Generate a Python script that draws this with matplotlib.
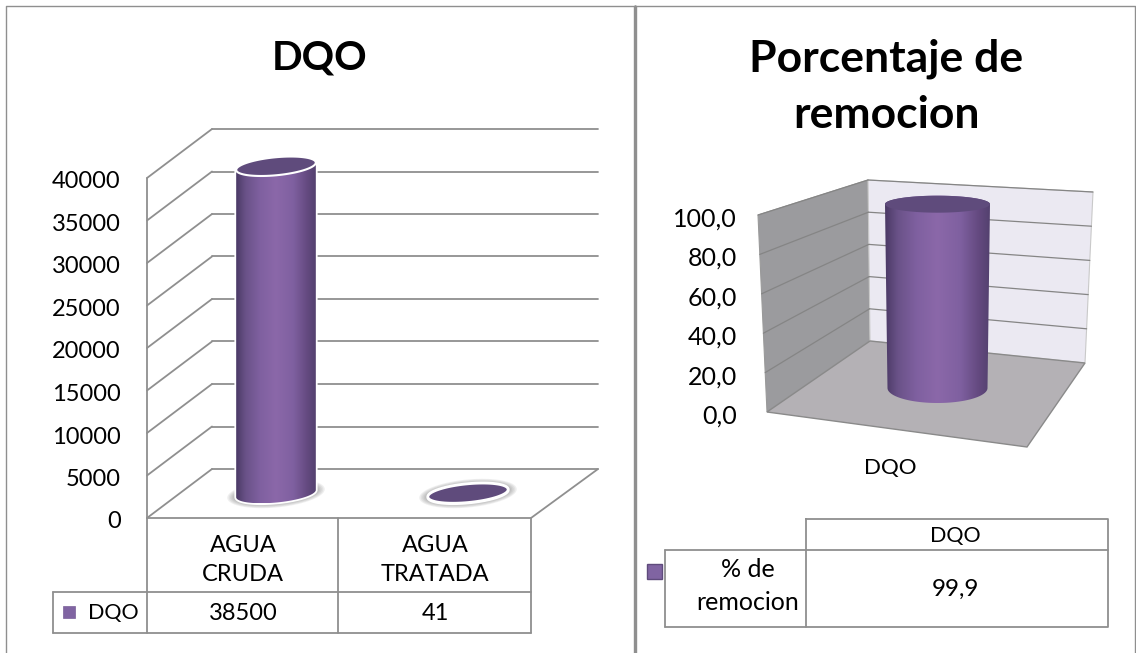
import matplotlib
matplotlib.use("Agg")
import matplotlib.pyplot as plt
import numpy as np
from matplotlib.colors import LinearSegmentedColormap
from matplotlib.patches import Polygon, Rectangle
from matplotlib.transforms import ScaledTranslation

# datos
categorias = ["AGUA\nCRUDA", "AGUA\nTRATADA"]
dqo = [38500, 41]
dqo_ticks = [0, 5000, 10000, 15000, 20000, 25000, 30000, 35000, 40000]
titulo_dqo = "DQO"
serie_dqo = "DQO"

porcentaje = [99.9]
pct_ticks = [0, 20, 40, 60, 80, 100]
cat_pct = ["DQO"]
titulo_pct = "Porcentaje de\nremocion"
serie_pct = "% de\nremocion"

W, H = 1136, 653
GRIS = "#8f8f8f"
FONT = "Lato"
plt.rcParams["font.family"] = [FONT, "DejaVu Sans"]

fig = plt.figure(figsize=(W / 100, H / 100), dpi=100, facecolor="white")
bg = fig.add_axes([0, 0, 1, 1])
bg.axis("off")
bg.set_xlim(0, W)
bg.set_ylim(H, 0)
bg.set_autoscale_on(False)


def eje(x0, y0, x1, y1):
    # axes colocado en pixeles de la imagen
    a = fig.add_axes([x0 / W, 1 - y0 / H, (x1 - x0) / W, (y0 - y1) / H])
    a.patch.set_alpha(0)
    for s in a.spines.values():
        s.set_visible(False)
    a.set_xticks([])
    a.tick_params(length=0)
    return a


def bajar_labels(a, px):
    off = ScaledTranslation(0, -px / 100, fig.dpi_scale_trans)
    for t in a.get_yticklabels():
        t.set_transform(t.get_transform() + off)


def a_px(a, x, y):
    p = a.transData.transform((x, y))
    return bg.transData.inverted().transform(p)


def linea(xs, ys, lw=1.3, c=GRIS, z=2):
    bg.plot(xs, ys, color=c, lw=lw, zorder=z, solid_capstyle="round")


def elipse(cx, cy, a, b, tilt=0.0, t0=0, t1=2 * np.pi):
    t = np.linspace(t0, t1, 80)
    f = np.radians(tilt)
    x = cx + a * np.cos(t) * np.cos(f) + b * np.sin(t) * np.sin(f)
    y = cy - a * np.cos(t) * np.sin(f) + b * np.sin(t) * np.cos(f)
    return np.column_stack([x, y])


grad = LinearSegmentedColormap.from_list(
    "cil",
    [(0, "#4b3a66"), (0.12, "#6a5288"), (0.3, "#7f60a0"), (0.5, "#8b68a9"),
     (0.72, "#7f60a0"), (0.9, "#63497f"), (1, "#54416f")],
)


def cilindro(cbase, ctop, a0, a1, b0, b1, tilt, borde=None, tapa="#5f4b7c"):
    abajo = elipse(cbase[0], cbase[1], a0, b0, tilt, 0, np.pi)
    arriba = elipse(ctop[0], ctop[1], a1, b1, tilt, np.pi, 2 * np.pi)
    cuerpo = np.vstack([abajo, arriba])
    if borde:
        bg.add_patch(Polygon(cuerpo, closed=True, fc="none", ec=borde, lw=2.6, zorder=4))
    xmin, xmax = cuerpo[:, 0].min(), cuerpo[:, 0].max()
    ymin, ymax = cuerpo[:, 1].min(), cuerpo[:, 1].max()
    if ymax - ymin > b0 * 2 + 3:
        im = bg.imshow(np.linspace(0, 1, 200).reshape(1, -1), cmap=grad, aspect="auto",
                       extent=(xmin, xmax, ymax, ymin), zorder=5, interpolation="bilinear")
        im.set_clip_path(Polygon(cuerpo, closed=True, transform=bg.transData))
    bg.add_patch(Polygon(elipse(ctop[0], ctop[1], a1, b1, tilt), closed=True, fc=tapa,
                         ec=borde if borde else "none", lw=1.5, zorder=6))


def sombra(cx, cy, a, b, tilt):
    for k in range(7):
        bg.add_patch(Polygon(elipse(cx, cy, a + 9 - k * 1.5, b + 5 - k * 0.8, tilt), closed=True,
                             fc="#555555", ec="none", alpha=0.09, zorder=3))


# ---- marcos ----
linea([6, 6, 634, 634], [653, 6, 6, 653], lw=1.0)
linea([636, 636, 1135, 1135], [653, 6, 6, 653], lw=1.0)
linea([635, 635], [6, 653], lw=2.0)

# ---- grafico DQO ----
ax1 = eje(147, 518, 531, 178)
ax1.set_xlim(-0.5, 1.5)
ax1.set_ylim(0, 40000)
ax1.set_yticks(dqo_ticks)
ax1.set_yticklabels([str(v) for v in dqo_ticks], fontsize=17, color="black")
ax1.tick_params(axis="y", pad=19)
bajar_labels(ax1, 2)
ax1m = eje(180, 493.5, 564, 153.5)
ax1m.set_xlim(-0.5, 1.5)
ax1m.set_ylim(0, 40000)
ax1m.axis("off")

DX, DY = 65, -49
for v in dqo_ticks:
    x, y = a_px(ax1, -0.5, v)
    linea([x, x + DX], [y, y + DY])
    linea([x + DX, 598], [y + DY, y + DY])
x0, y0 = a_px(ax1, -0.5, 0)
x1, _ = a_px(ax1, 1.5, 0)
x_, ytop = a_px(ax1, -0.5, dqo_ticks[-1])
linea([x0, x_], [y0, ytop])
linea([x0, x1, 598], [y0, y0, y0 + DY])

for i, v in enumerate(dqo):
    bx, by = a_px(ax1m, i, 0)
    tx, ty = a_px(ax1m, i, v)
    sombra(bx, by, 40, 9, 5.5)
    cilindro((bx, by), (tx, ty), 40, 40, 9, 9, 5.5, borde="white")

# tabla izquierda
linea([147, 147], [518, 633])
linea([338, 338], [518, 633])
linea([531, 531], [518, 633])
linea([53, 531], [592, 592])
linea([53, 531], [633, 633])
linea([53, 53], [592, 633])
for i, c in enumerate(categorias):
    cx = a_px(ax1, i, 0)[0]
    bg.text(cx, 560, c, ha="center", va="center", fontsize=17, linespacing=1.5, zorder=8)
    bg.text(cx, 613, str(dqo[i]), ha="center", va="center", fontsize=17, zorder=8)
bg.add_patch(Rectangle((63, 606), 12, 12, fc="#8064a2", ec="#7a6098", lw=0.5, zorder=8))
bg.text(88, 613, serie_dqo, ha="left", va="center", fontsize=15.5, zorder=8)
bg.text(320, 58, titulo_dqo, ha="center", va="center", fontsize=29, fontweight="bold", zorder=8)

# ---- grafico porcentaje ----
ax2 = eje(762, 413, 1030, 216)
ax2.set_xlim(-0.5, 0.5)
ax2.set_ylim(0, 100)
ax2.set_yticks(pct_ticks)
ax2.set_yticklabels([f"{v:.1f}".replace(".", ",") for v in pct_ticks], fontsize=18, color="black")
ax2.tick_params(axis="y", pad=18)
bajar_labels(ax2, 1)
ax2m = eje(830, 388, 1045, 204)
ax2m.set_xlim(-0.5, 0.5)
ax2m.set_ylim(0, 100)
ax2m.axis("off")

esq = {
    "fi": (767, 412), "fs": (758, 215),
    "ci": (870, 341), "cs": (868, 180),
    "di": (1085, 363), "ds": (1093, 192),
    "pf": (1027, 447),
}
bg.add_patch(Polygon([esq["fi"], esq["fs"], esq["cs"], esq["ci"]], closed=True, fc="#9b9b9e", ec="#9a9a9a", lw=0.8, zorder=1))
bg.add_patch(Polygon([esq["cs"], esq["ds"], esq["di"], esq["ci"]], closed=True, fc="#ebe9f2", ec="#c9c9c9", lw=0.8, zorder=1))
bg.add_patch(Polygon([esq["fi"], esq["ci"], esq["di"], esq["pf"]], closed=True, fc="#b4b1b5", ec="#8a8a8a", lw=1.0, zorder=1))


def lerp(p, q, f):
    return p[0] + (q[0] - p[0]) * f, p[1] + (q[1] - p[1]) * f


for v in pct_ticks[1:]:
    f = v / pct_ticks[-1]
    a = lerp(esq["fi"], esq["fs"], f)
    b = lerp(esq["ci"], esq["cs"], f)
    c = lerp(esq["di"], esq["ds"], f)
    linea([a[0], b[0]], [a[1], b[1]], lw=0.9, c="#858585")
    linea([b[0], c[0]], [b[1], c[1]], lw=0.9, c="#858585")

for i, v in enumerate(porcentaje):
    bx, by = a_px(ax2m, i, 0)
    tx, ty = a_px(ax2m, i, v)
    cilindro((bx, by), (tx, ty), 50, 52.5, 15, 8.5, 0)

bg.text(890, 468, cat_pct[0], ha="center", va="center", fontsize=16, zorder=8)

# tabla derecha
linea([806, 1108, 1108, 806, 806], [519, 519, 627, 627, 519])
linea([665, 1108], [550, 550])
linea([665, 806], [627, 627])
linea([665, 665], [550, 627])
bg.add_patch(Rectangle((647, 564), 15, 15, fc="#8064a2", ec="#5f4b7c", lw=1.0, zorder=8))
bg.text(748, 586, serie_pct, ha="center", va="center", fontsize=18, linespacing=1.55, zorder=8)
bg.text(955, 536, cat_pct[0], ha="center", va="center", fontsize=15.5, zorder=8)
bg.text(955, 589, f"{porcentaje[0]:.1f}".replace(".", ","), ha="center", va="center", fontsize=17.5, zorder=8)
bg.text(886, 87, titulo_pct, ha="center", va="center", fontsize=32, fontweight="bold", linespacing=1.5, zorder=8)

fig.savefig("out.png", dpi=100)
